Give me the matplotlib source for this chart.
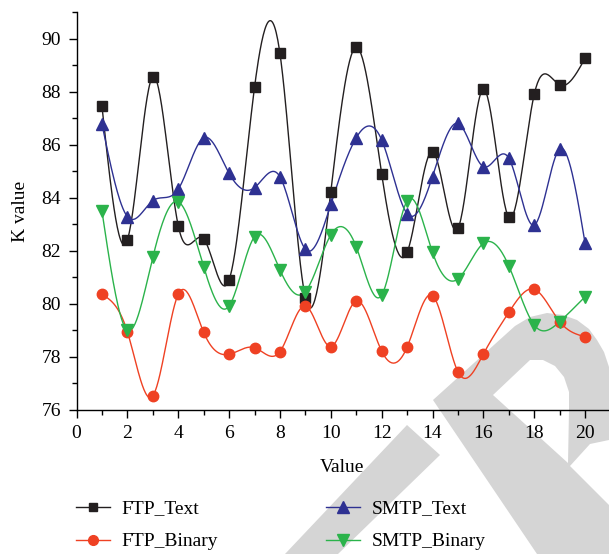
import numpy as np
import matplotlib
matplotlib.use('Agg')
import matplotlib.pyplot as plt
from matplotlib.patches import Polygon
from matplotlib.lines import Line2D
from matplotlib.ticker import MultipleLocator

# ---- data ----
x_vals = list(range(1, 21))
ftp_text = [87.46, 82.41, 88.56, 82.95, 82.45, 80.90, 88.16, 89.44, 80.23, 84.23,
            89.67, 84.90, 81.94, 85.74, 82.85, 88.09, 83.26, 87.90, 88.25, 89.26]
ftp_binary = [80.36, 78.95, 76.53, 80.36, 78.93, 78.10, 78.35, 78.20, 79.92, 78.39,
              80.11, 78.22, 78.37, 80.31, 77.44, 78.11, 79.68, 80.55, 79.33, 78.76]
smtp_text = [86.78, 83.29, 83.89, 84.32, 86.26, 84.92, 84.38, 84.79, 82.06, 83.75,
             86.26, 86.18, 83.40, 84.80, 86.80, 85.17, 85.49, 82.97, 85.84, 82.28]
smtp_binary = [83.50, 79.00, 81.75, 83.85, 81.40, 79.92, 82.53, 81.28, 80.46, 82.60,
               82.15, 80.33, 83.88, 81.94, 80.94, 82.28, 81.43, 79.20, 79.33, 80.27]
series_names = ["FTP_Text", "FTP_Binary", "SMTP_Text", "SMTP_Binary"]
x_ticks = [0, 2, 4, 6, 8, 10, 12, 14, 16, 18, 20]
y_ticks = [76, 78, 80, 82, 84, 86, 88, 90]


def natural_spline(xs, ys, num=600):
    xs = np.asarray(xs, float)
    ys = np.asarray(ys, float)
    n = len(xs)
    h = np.diff(xs)
    A = np.zeros((n, n))
    b = np.zeros(n)
    A[0, 0] = 1
    A[-1, -1] = 1
    for i in range(1, n - 1):
        A[i, i - 1] = h[i - 1]
        A[i, i] = 2 * (h[i - 1] + h[i])
        A[i, i + 1] = h[i]
        b[i] = 6 * ((ys[i + 1] - ys[i]) / h[i] - (ys[i] - ys[i - 1]) / h[i - 1])
    M = np.linalg.solve(A, b)
    xx = np.linspace(xs[0], xs[-1], num)
    idx = np.clip(np.searchsorted(xs, xx) - 1, 0, n - 2)
    x0, x1 = xs[idx], xs[idx + 1]
    hh = x1 - x0
    t0 = x1 - xx
    t1 = xx - x0
    yy = (M[idx] * t0 ** 3 / (6 * hh) + M[idx + 1] * t1 ** 3 / (6 * hh)
          + (ys[idx] / hh - M[idx] * hh / 6) * t0
          + (ys[idx + 1] / hh - M[idx + 1] * hh / 6) * t1)
    return xx, yy


plt.rcParams['font.family'] = ['Liberation Serif', 'DejaVu Serif']
plt.rcParams['font.size'] = 14

W, H = 609, 554
fig = plt.figure(figsize=(W / 100, H / 100), dpi=100)

# watermark (light grey shapes, pixel coordinates), drawn beneath everything
def px(pts):
    return [(xp / W, 1 - yp / H) for xp, yp in pts]

wm_color = '#d5d5d5'
fig.patches.append(Polygon(px([(285, 554), (407, 425), (440, 455), (338, 554)]),
                           closed=True, transform=fig.transFigure, fc=wm_color, ec='none', zorder=-3))
fig.patches.append(Polygon(px([(433, 400), (515, 326), (530, 317), (547, 313), (563, 315), (577, 320),
                               (589, 329), (597, 340), (604, 352), (609, 367),
                               (609, 554), (537, 554)]),
                           closed=True, transform=fig.transFigure, fc=wm_color, ec='none', zorder=-3))
fig.patches.append(Polygon(px([(493, 395), (530, 360), (543, 360), (555, 366), (564, 377),
                               (569, 392), (569, 410), (568, 463)]),
                           closed=True, transform=fig.transFigure, fc='white', ec='none', zorder=-2))
fig.patches.append(Polygon(px([(570, 466), (609, 505), (609, 440), (590, 444)]),
                           closed=True, transform=fig.transFigure, fc='white', ec='none', zorder=-2))

ax = fig.add_axes([76.5 / W, 1 - 410 / H, 531.5 / W, 398 / H])
ax.set_facecolor('none')
ax.set_zorder(1)

styles = [
    (ftp_text, '#231f20', 's', 6.5),
    (ftp_binary, '#ef4123', 'o', 7.5),
    (smtp_text, '#2e3192', '^', 8.5),
    (smtp_binary, '#2bb34b', 'v', 8.5),
]
handles = []
for (vals, col, mk, ms), name in zip(styles, series_names):
    xx, yy = natural_spline(x_vals, vals)
    ax.plot(xx, yy, color=col, lw=1.0, zorder=2)
    ax.plot(x_vals, vals, linestyle='none', marker=mk, ms=ms, color=col, mec=col, zorder=3)
    handles.append(Line2D([], [], color=col, lw=1.0, marker=mk, ms=ms - 0.5, mec=col, label=name))

ax.set_xlim(0, 20.9)
ax.set_ylim(76, 91)
ax.set_xticks(x_ticks)
ax.set_yticks(y_ticks)
ax.xaxis.set_minor_locator(MultipleLocator(1))
ax.yaxis.set_minor_locator(MultipleLocator(1))
ax.tick_params(which='major', direction='out', length=6, width=1.0, labelsize=14, pad=5)
ax.tick_params(which='minor', direction='out', length=3.5, width=1.0)
for s in ['top', 'right']:
    ax.spines[s].set_visible(False)
for s in ['left', 'bottom']:
    ax.spines[s].set_linewidth(1.0)

ax.set_xlabel('Value', fontsize=14, labelpad=12)
ax.set_ylabel('K value', fontsize=14, labelpad=9)

leg = fig.legend(handles=handles, ncol=2, loc='upper left',
                 bbox_to_anchor=(76 / W, 1 - 500 / H), frameon=False, fontsize=14,
                 handlelength=1.75, handletextpad=0.6, columnspacing=5.55, labelspacing=0.78,
                 borderaxespad=0, borderpad=0)
leg.set_zorder(2)

fig.savefig('out.png', dpi=100)
